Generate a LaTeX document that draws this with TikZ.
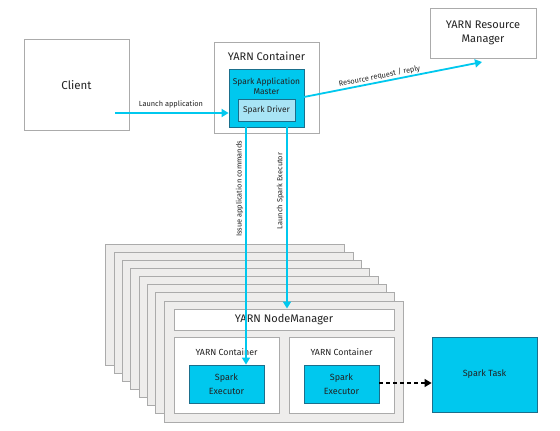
\documentclass[tikz,border=0pt]{standalone}
\usepackage{fontspec}
\setmainfont{Fira Sans}
\usetikzlibrary{arrows.meta}
\definecolor{cy}{HTML}{00C8EE}
\definecolor{cyl}{HTML}{A8E4F5}
\definecolor{cyb}{HTML}{1B6F8C}
\definecolor{gb}{HTML}{ABABAB}
\definecolor{gf}{HTML}{EEEDEC}
\definecolor{tx}{HTML}{222222}
\tikzset{
  box/.style={draw=gb, line width=0.9pt, fill=white, inner sep=0pt, text=tx, align=center},
  stackbox/.style={draw=gb, line width=0.9pt, fill=gf, inner sep=0pt, minimum width=239pt, minimum height=121pt},
  cybox/.style={draw=cyb, line width=0.8pt, fill=cy, inner sep=0pt, text=tx, align=center},
  cyarrow/.style={draw=cy, line width=1.8pt, -{Triangle[width=8pt,length=7pt]}},
  lbl/.style={font=\fontsize{7.4}{8}\selectfont, text=tx, inner sep=1pt}
}
\begin{document}
\begin{tikzpicture}[x=1pt,y=-1pt]
\useasboundingbox[fill=white] (0,0) rectangle (560,431);
% top row
\node[box, minimum width=105pt, minimum height=91pt, font=\fontsize{11.5}{13}\selectfont] (client) at (76.5,85) {Client};
\node[box, minimum width=105pt, minimum height=91pt] (yc) at (266.5,87.5) {};
\node[text=tx, font=\fontsize{11}{12}\selectfont] (yct) at (266.5,56) {YARN Container};
\node[cybox, minimum width=75pt, minimum height=58pt] (am) at (266.5,98) {};
\node[text=tx, align=center, font=\fontsize{8.4}{10}\selectfont] (amt) at (266.5,86) {Spark Application\\Master};
\node[cybox, fill=cyl, minimum width=57pt, minimum height=22pt, font=\fontsize{8.4}{10}\selectfont] (driver) at (266.5,110) {Spark Driver};
\node[box, minimum width=106pt, minimum height=50pt, font=\fontsize{11}{14.5}\selectfont] (rm) at (483,33) {YARN Resource\\Manager};
% stack
\foreach \k in {7,6,...,1}{
  \node[stackbox] (s\k) at ({283.5-8.3*\k},{361.5-8.15*\k}) {};
}
\node[stackbox] (front) at (283.5,361.5) {};
\node[box, minimum width=220pt, minimum height=21pt, font=\fontsize{11}{12}\selectfont] (nm) at (284,319.5) {YARN NodeManager};
\node[box, minimum width=105pt, minimum height=76pt] (c1) at (226.5,375) {};
\node[box, minimum width=105pt, minimum height=76pt] (c2) at (341.5,375) {};
\node[text=tx, font=\fontsize{8.8}{10}\selectfont] (c1t) at (226.5,352) {YARN Container};
\node[text=tx, font=\fontsize{8.8}{10}\selectfont] (c2t) at (341.5,352) {YARN Container};
\node[cybox, minimum width=75pt, minimum height=38pt, font=\fontsize{9}{13.5}\selectfont] (e1) at (226.5,384) {Spark\\Executor};
\node[cybox, minimum width=75pt, minimum height=38pt, font=\fontsize{9}{13.5}\selectfont] (e2) at (341.5,384) {Spark\\Executor};
\node[cybox, minimum width=105pt, minimum height=75pt, font=\fontsize{9}{10}\selectfont] (task) at (484.5,374.5) {Spark Task};
% connectors
\coordinate (la) at (115,113);
\draw[cyarrow] (la) -- (la -| am.west);
\node[lbl, anchor=south] (lat) at (171,109) {Launch application};
\coordinate (rs) at (304,97);
\coordinate (rr) at (482,62);
\draw[cyarrow] (rs) -- node[lbl, sloped, above, pos=0.43] (rrt) {Resource request / reply} (rr);
\coordinate (v1) at (246,127);
\coordinate (v2) at (287,127);
\draw[cyarrow] (v1) -- (v1 |- e1.north);
\draw[cyarrow] (v2) -- (v2 |- nm.north);
\node[lbl, rotate=90] (v1t) at (239.5,189) {Issue application commands};
\node[lbl, rotate=90] (v2t) at (280.5,191) {Launch Spark Executor};
\draw[black, line width=1.3pt, dash pattern=on 4pt off 3pt, -{Triangle[width=8pt,length=7pt]}] (e2.east |- 0,383) -- (task.west |- 0,383);
\end{tikzpicture}
\end{document}
